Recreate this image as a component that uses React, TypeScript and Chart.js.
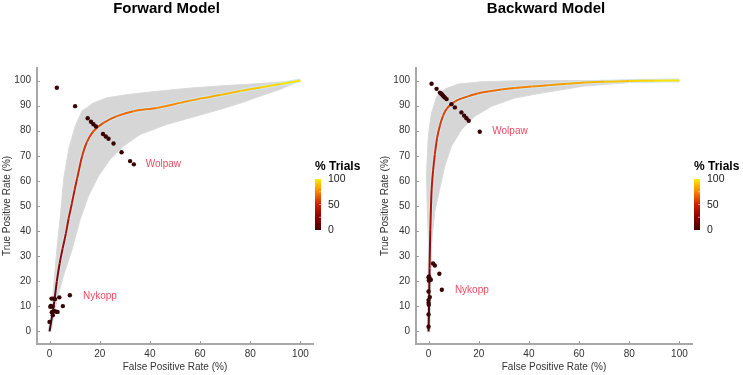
import React, { useEffect, useRef } from 'react';
import { Chart, registerables } from 'chart.js';

Chart.register(...registerables);

const FONT = "'Liberation Sans', Arial, Helvetica, sans-serif";

// ---------- tick values ----------
const xTickValues = [0, 20, 40, 60, 80, 100];
const yTickValues = [0, 10, 20, 30, 40, 50, 60, 70, 80, 90, 100];
const colorbarTicks = [0, 50, 100];

// ---------- Forward model ----------
const fwdCurveX = [0, 1, 1.9, 2.9, 4, 5.2, 6.5, 7.6, 8.9, 10, 11, 12.9, 14.9, 17.5, 21.5, 26.8, 33.4, 42.7, 52, 60, 68, 76, 84, 92, 100];
const fwdCurveY = [0, 6, 12, 20, 27, 33, 39, 45, 51, 56.5, 61, 69.5, 75.5, 79.8, 83.1, 85.8, 87.8, 89.1, 91.1, 92.8, 94.2, 95.8, 97.2, 98.6, 100];
const fwdUpperX = [0, 0.6, 1.2, 2, 2.9, 4.3, 5.6, 7.6, 10.2, 12.9, 17.5, 22.8, 30.8, 42.7, 56, 70, 84, 100];
const fwdUpperY = [0, 6, 13, 22, 32.7, 45.9, 60.6, 72.5, 81.8, 87.8, 91.1, 93.1, 94.4, 95.7, 97, 98, 98.8, 100];
const fwdLowerX = [0, 1.2, 3, 5.5, 9, 12.2, 15.5, 19.5, 24.1, 29.4, 36.1, 46.7, 57.3, 67.9, 76, 84, 92, 100];
const fwdLowerY = [0, 4, 12.7, 22, 32.7, 44.6, 53.9, 61.9, 68.5, 73.8, 78.5, 82.5, 85.5, 88.5, 91, 93.8, 96.5, 100];
const fwdTrialsX = [2.9, 10.2, 15.2, 16.5, 17.5, 18.5, 21.3, 22.4, 23.5, 25.5, 28.7, 32.1, 33.6, 0, 0.3, 1.2, 0.8, 1.6, 2.2, 3.9, 8.1, 5.3, 0.9, 1.9, 2.6, 3.2, 1.3, 0.5];
const fwdTrialsY = [97.1, 89.8, 85, 83.6, 82.6, 81.7, 78.7, 77.7, 76.8, 74.9, 71.4, 67.9, 66.6, 3.8, 9.8, 9.9, 13.1, 13.1, 12.9, 13.6, 14.4, 10.1, 7.7, 8.1, 7.9, 7.8, 6.5, 10.2];
const fwdLabelNames = ['Wolpaw', 'Nykopp'];
const fwdLabelX = [38.3, 13.3];
const fwdLabelY = [66.5, 14.1];

// ---------- Backward model ----------
const bwdCurveX = [0, 0.2, 0.4, 0.7, 1.2, 1.8, 2.5, 3.4, 4.5, 5.8, 7.2, 9, 10.8, 13, 15.7, 19.5, 23.7, 29, 34.3, 41, 47.5, 55, 62, 70, 80, 90, 100];
const bwdCurveY = [0, 10, 25, 40, 56, 64, 70.5, 77, 82, 86, 88.7, 90.5, 91.8, 92.8, 93.7, 94.8, 95.6, 96.4, 97, 97.6, 98.1, 98.7, 99.2, 99.5, 99.8, 99.95, 100];
const bwdUpperX = [0.3, -0.2, -0.6, -0.8, -0.5, -0.15, 0.4, 1.2, 3.2, 6.5, 11.8, 21, 35, 50, 100];
const bwdUpperY = [28, 40, 52, 62, 70, 77, 82, 87, 93.6, 96.6, 98.6, 99.5, 99.9, 100, 100];
const bwdLowerX = [0.3, 1.2, 2.5, 4.5, 6.5, 9.1, 13.1, 18.4, 25, 34.3, 44.9, 54.2, 62, 80, 90, 100];
const bwdLowerY = [28, 35, 48, 57, 66, 73.7, 80.4, 85.7, 89.7, 93, 95, 96.5, 97.8, 99.2, 99.7, 100];
const bwdTrialsX = [1.2, 3.2, 4.5, 4.9, 5.2, 5.5, 5.8, 6.2, 6.5, 7.2, 9.1, 10.5, 13.1, 14.2, 15.1, 16, 20.4, 1.8, 2.5, 4.3, 5.3, 0, 0.5, 0.1, 0.9, 0.2, 0.5, 0, 0, 0, 0.1, 0, 0];
const bwdTrialsY = [98.7, 96.7, 95.2, 94.9, 94.6, 94.3, 93.9, 93.5, 93.2, 92.6, 90.6, 89.3, 87.3, 86, 85, 84, 79.6, 27.1, 26.3, 23, 16.6, 21.6, 21, 20.3, 20.6, 21.9, 13.7, 15.9, 12.5, 11.4, 10.6, 6.8, 1.9];
const bwdLabelNames = ['Wolpaw', 'Nykopp'];
const bwdLabelX = [25.4, 10.5];
const bwdLabelY = [79.7, 16.4];

// ---------- colour map ----------
const hotStops: [number, number[]][] = [
  [0, [70, 0, 0]],
  [0.25, [140, 0, 0]],
  [0.5, [205, 30, 0]],
  [0.75, [250, 130, 0]],
  [1, [255, 235, 0]],
];
function hot(v: number): string {
  const t = Math.max(0, Math.min(1, v));
  for (let i = 1; i < hotStops.length; i++) {
    const [t1, c1] = hotStops[i];
    const [t0, c0] = hotStops[i - 1];
    if (t <= t1) {
      const f = (t - t0) / (t1 - t0);
      const c = c0.map((a, k) => Math.round(a + (c1[k] - a) * f));
      return `rgb(${c[0]},${c[1]},${c[2]})`;
    }
  }
  return 'rgb(255,235,0)';
}

function arcFractions(xs: number[], ys: number[]): number[] {
  const d = [0];
  for (let i = 1; i < xs.length; i++) {
    d.push(d[i - 1] + Math.hypot(xs[i] - xs[i - 1], ys[i] - ys[i - 1]));
  }
  const tot = d[d.length - 1];
  return d.map((v) => Math.pow(v / tot, 0.7));
}

const pts = (xs: number[], ys: number[]) => xs.map((x, i) => ({ x, y: ys[i] }));

type PanelCfg = {
  title: string;
  titleX: number;
  yAxisWidth: number;
  padRight: number;
  cbX: number;
  curveX: number[];
  curveY: number[];
  upperX: number[];
  upperY: number[];
  lowerX: number[];
  lowerY: number[];
  trialsX: number[];
  trialsY: number[];
  labelNames: string[];
  labelX: number[];
  labelY: number[];
};

function makeChart(canvas: HTMLCanvasElement, cfg: PanelCfg) {
  const frac = arcFractions(cfg.curveX, cfg.curveY);
  const band = pts(cfg.upperX, cfg.upperY).concat(pts(cfg.lowerX, cfg.lowerY).reverse());
  const curve = pts(cfg.curveX, cfg.curveY);

  const decor = {
    id: 'decor',
    beforeDatasetsDraw(chart: any) {
      const ctx = chart.ctx;
      const meta = chart.getDatasetMeta(3);
      const a = chart.chartArea;
      ctx.save();
      ctx.beginPath();
      ctx.rect(a.left, a.top, a.right - a.left, a.bottom - a.top);
      ctx.clip();
      ctx.beginPath();
      meta.data.forEach((p: any, i: number) => {
        if (i === 0) ctx.moveTo(p.x, p.y);
        else ctx.lineTo(p.x, p.y);
      });
      ctx.closePath();
      ctx.fillStyle = '#d6d6d6';
      ctx.fill();
      ctx.strokeStyle = '#dadada';
      ctx.lineWidth = 1;
      ctx.stroke();
      ctx.restore();
    },
    afterDraw(chart: any) {
      const ctx = chart.ctx;
      const xs = chart.scales.x;
      const ys = chart.scales.y;
      const a = chart.chartArea;
      ctx.save();
      // inward tick marks
      ctx.strokeStyle = '#9a9a9a';
      ctx.lineWidth = 1;
      xTickValues.forEach((v) => {
        const px = Math.round(xs.getPixelForValue(v)) + 0.5;
        ctx.beginPath();
        ctx.moveTo(px, a.bottom);
        ctx.lineTo(px, a.bottom - 3);
        ctx.stroke();
      });
      yTickValues.forEach((v) => {
        const py = Math.round(ys.getPixelForValue(v)) + 0.5;
        ctx.beginPath();
        ctx.moveTo(a.left, py);
        ctx.lineTo(a.left + 3, py);
        ctx.stroke();
      });
      // title
      ctx.fillStyle = '#000';
      ctx.font = `bold 15px ${FONT}`;
      ctx.textAlign = 'center';
      ctx.textBaseline = 'middle';
      ctx.fillText(cfg.title, cfg.titleX, 9);
      // annotations
      ctx.font = `10px ${FONT}`;
      ctx.textAlign = 'left';
      ctx.fillStyle = '#ee4b61';
      cfg.labelNames.forEach((n, i) => {
        ctx.fillText(n, xs.getPixelForValue(cfg.labelX[i]), ys.getPixelForValue(cfg.labelY[i]));
      });
      // colorbar
      const top = 179;
      const bot = 230;
      const w = 6;
      const g = ctx.createLinearGradient(0, bot, 0, top);
      for (let i = 0; i <= 20; i++) g.addColorStop(i / 20, hot(i / 20));
      ctx.fillStyle = g;
      ctx.fillRect(cfg.cbX, top, w, bot - top);
      ctx.strokeStyle = 'rgba(255,255,255,0.5)';
      [25, 50, 75].forEach((v) => {
        const py = bot - (v / 100) * (bot - top);
        ctx.beginPath();
        ctx.moveTo(cfg.cbX + w - 2, py);
        ctx.lineTo(cfg.cbX + w, py);
        ctx.stroke();
      });
      ctx.fillStyle = '#000';
      ctx.font = `bold 12px ${FONT}`;
      ctx.fillText('% Trials', cfg.cbX, 166.5);
      ctx.fillStyle = '#222';
      ctx.font = `10.5px ${FONT}`;
      colorbarTicks.forEach((v) => {
        const py = bot - (v / 100) * (bot - top) + 0.5;
        ctx.fillText(String(v), cfg.cbX + 13, py);
      });
      ctx.restore();
    },
  };

  const tickFont = { family: FONT, size: 10 };

  return new Chart(canvas, {
    type: 'scatter',
    data: {
      datasets: [
        {
          label: 'trials',
          data: pts(cfg.trialsX, cfg.trialsY),
          pointRadius: 2.2,
          pointBackgroundColor: '#3a0404',
          pointBorderWidth: 0,
          showLine: false,
        } as any,
        {
          label: 'curve',
          type: 'line',
          data: curve,
          borderWidth: 2,
          borderColor: '#800000',
          pointRadius: 0,
          fill: false,
          tension: 0.25,
          segment: {
            borderColor: (c: any) => hot((frac[c.p0DataIndex] + frac[c.p1DataIndex]) / 2),
          },
        } as any,
        {
          label: 'halo',
          type: 'line',
          data: curve,
          borderWidth: 4,
          borderColor: '#cfe8f1',
          pointRadius: 0,
          fill: false,
          tension: 0.25,
        } as any,
        {
          label: 'band',
          type: 'line',
          data: band,
          showLine: false,
          pointRadius: 0,
          fill: false,
        } as any,
      ],
    },
    options: {
      animation: false,
      responsive: false,
      maintainAspectRatio: false,
      events: [],
      layout: { padding: { top: 68, right: cfg.padRight, bottom: 0, left: 0 } },
      plugins: { legend: { display: false }, tooltip: { enabled: false }, title: { display: false } },
      scales: {
        x: {
          type: 'linear',
          min: -5,
          max: 105,
          afterBuildTicks: (s: any) => {
            s.ticks = xTickValues.map((v) => ({ value: v }));
          },
          afterFit: (s: any) => {
            s.height = 31;
          },
          grid: { display: false, drawTicks: false },
          border: { display: true, color: '#a8a8a8', width: 2 },
          ticks: { font: tickFont, color: '#333', padding: 4, maxRotation: 0 },
          title: {
            display: true,
            text: 'False Positive Rate (%)',
            font: tickFont,
            color: '#333',
            padding: { top: 0, bottom: 2 },
          },
        },
        y: {
          type: 'linear',
          min: -5,
          max: 105,
          afterBuildTicks: (s: any) => {
            s.ticks = yTickValues.map((v) => ({ value: v }));
          },
          afterFit: (s: any) => {
            s.width = cfg.yAxisWidth;
          },
          grid: { display: false, drawTicks: false },
          border: { display: true, color: '#a8a8a8', width: 2 },
          ticks: { font: tickFont, color: '#333', padding: 6 },
          title: {
            display: true,
            text: 'True Positive Rate (%)',
            font: tickFont,
            color: '#333',
            padding: { top: 1.5, bottom: 0 },
          },
        },
      },
    },
    plugins: [decor],
  } as any);
}

const forwardCfg: PanelCfg = {
  title: 'Forward Model',
  titleX: 166.5,
  yAxisWidth: 37,
  padRight: 59,
  cbX: 315,
  curveX: fwdCurveX,
  curveY: fwdCurveY,
  upperX: fwdUpperX,
  upperY: fwdUpperY,
  lowerX: fwdLowerX,
  lowerY: fwdLowerY,
  trialsX: fwdTrialsX,
  trialsY: fwdTrialsY,
  labelNames: fwdLabelNames,
  labelX: fwdLabelX,
  labelY: fwdLabelY,
};

const backwardCfg: PanelCfg = {
  title: 'Backward Model',
  titleX: 168,
  yAxisWidth: 38,
  padRight: 51,
  cbX: 316,
  curveX: bwdCurveX,
  curveY: bwdCurveY,
  upperX: bwdUpperX,
  upperY: bwdUpperY,
  lowerX: bwdLowerX,
  lowerY: bwdLowerY,
  trialsX: bwdTrialsX,
  trialsY: bwdTrialsY,
  labelNames: bwdLabelNames,
  labelX: bwdLabelX,
  labelY: bwdLabelY,
};

function Panel({ cfg, left, width }: { cfg: PanelCfg; left: number; width: number }) {
  const ref = useRef<HTMLCanvasElement | null>(null);
  useEffect(() => {
    if (!ref.current) return;
    const chart = makeChart(ref.current, cfg);
    return () => chart.destroy();
  }, [cfg]);
  return (
    <canvas
      ref={ref}
      width={width}
      height={375}
      style={{ position: 'absolute', left, top: 0, width, height: 375, display: 'block' }}
    />
  );
}

export default function App() {
  useEffect(() => {
    document.body.style.margin = '0';
    document.body.style.background = '#fff';
  }, []);
  return (
    <div style={{ position: 'relative', width: 743, height: 375, background: '#fff', overflow: 'hidden' }}>
      <Panel cfg={forwardCfg} left={0} width={372} />
      <Panel cfg={backwardCfg} left={378} width={365} />
    </div>
  );
}
